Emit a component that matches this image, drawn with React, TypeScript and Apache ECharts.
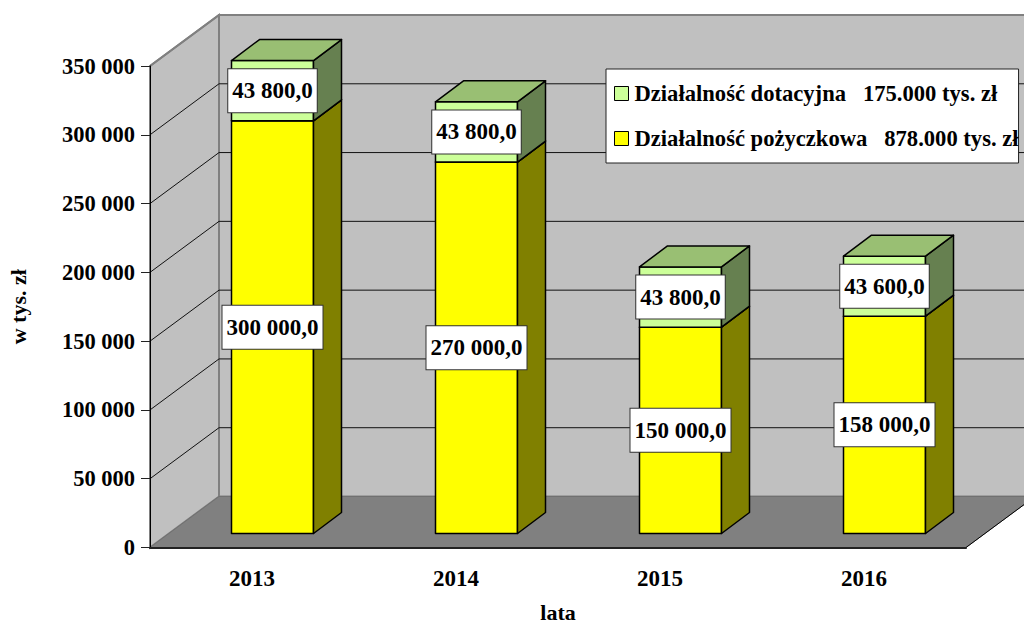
import React, { useEffect, useRef } from "react";
import * as echarts from "echarts";

const years = ["2013", "2014", "2015", "2016"];
const pozyczkowa = [300000, 270000, 150000, 158000];
const dotacyjna = [43800, 43800, 43800, 43600];
const yTicks = [50000, 100000, 150000, 200000, 250000, 300000, 350000];
const nameDot = "Działalność dotacyjna   175.000 tys. zł";
const namePoz = "Działalność pożyczkowa   878.000 tys. zł";

const FONT = '"Liberation Serif", "Times New Roman", serif';
const WALL_DX = 69;
const WALL_DY = 51;
const BAR_SHIFT_X = 20.5;
const BAR_SHIFT_Y = 14;
const BAR_HALF = 41;
const BAR_DX = 28;
const BAR_DY = 21;

const thousands = (v: number) => String(v).replace(/\B(?=(\d{3})+(?!\d))/g, " ");
const labelText = (v: number) => thousands(v) + ",0";

function segment(api: any, idx: number, from: number, to: number, value: number, c: { front: string; top: string; side: string }, padX: number) {
  const x0 = api.coord([idx, 0])[0] + BAR_SHIFT_X;
  const yb = api.coord([idx, from])[1] - BAR_SHIFT_Y;
  const yt = api.coord([idx, to])[1] - BAR_SHIFT_Y;
  const l = x0 - BAR_HALF;
  const r = x0 + BAR_HALF;
  const line = { stroke: "#000", lineWidth: 1.5, lineJoin: "round" };
  return {
    type: "group",
    children: [
      { type: "polygon", shape: { points: [[l, yb], [r, yb], [r, yt], [l, yt]] }, style: { fill: c.front, ...line } },
      { type: "polygon", shape: { points: [[r, yb], [r + BAR_DX, yb - BAR_DY], [r + BAR_DX, yt - BAR_DY], [r, yt]] }, style: { fill: c.side, ...line } },
      { type: "polygon", shape: { points: [[l, yt], [r, yt], [r + BAR_DX, yt - BAR_DY], [l + BAR_DX, yt - BAR_DY]] }, style: { fill: c.top, ...line } },
      {
        type: "text",
        x: x0,
        y: (yb + yt) / 2,
        style: {
          text: labelText(value),
          font: `bold 23px ${FONT}`,
          fill: "#000",
          align: "center",
          verticalAlign: "middle",
          backgroundColor: "#fff",
          borderColor: "#333",
          borderWidth: 1,
          padding: [10, padX, 10, padX],
        },
      },
    ],
  };
}

const yellow = { front: "#FFFF00", top: "#BFBF00", side: "#808000" };
const green = { front: "#CCFF99", top: "#99BF73", side: "#668050" };

export default function App() {
  const ref = useRef<HTMLDivElement>(null);
  useEffect(() => {
    document.body.style.margin = "0";
    const chart = echarts.init(ref.current!, null, { renderer: "svg" });
    const axisFont = { fontFamily: FONT, fontWeight: "bold" as const, fontSize: 23, color: "#000" };
    chart.setOption({
      animation: false,
      backgroundColor: "#fff",
      grid: { left: 150, top: 66, width: 816, height: 481.5, outerBoundsMode: "none" },
      xAxis: {
        type: "category",
        data: years,
        z: 10,
        name: "lata",
        nameLocation: "middle",
        nameGap: 54,
        nameTextStyle: { ...axisFont, fontSize: 22 },
        axisLine: { lineStyle: { color: "#222", width: 2 } },
        axisTick: { length: 9, alignWithLabel: false, lineStyle: { color: "#555" } },
        axisLabel: { ...axisFont, margin: 19 },
        splitLine: { show: false },
      },
      yAxis: {
        type: "value",
        min: 0,
        max: 350000,
        interval: 50000,
        z: 10,
        name: "w tys. zł",
        nameLocation: "middle",
        nameGap: 121,
        nameRotate: 90,
        nameTextStyle: { ...axisFont, fontSize: 22 },
        axisLine: { show: true, lineStyle: { color: "#000", width: 1 } },
        axisTick: { show: true, length: 9, lineStyle: { color: "#222" } },
        axisLabel: { ...axisFont, fontSize: 22.5, margin: 15, formatter: (v: number) => thousands(v) },
        splitLine: { show: false },
      },
      legend: {
        left: 606,
        top: 69,
        orient: "vertical",
        align: "left",
        itemWidth: 14,
        itemHeight: 14,
        itemGap: 22,
        padding: [13, 0, 13, 8],
        backgroundColor: "#fff",
        borderColor: "#222",
        borderWidth: 1,
        selectedMode: false,
        textStyle: { ...axisFont, fontSize: 22.6, padding: [0, 0, 0, 1] },
        data: [
          { name: nameDot, icon: "rect", itemStyle: { color: "#CCFF99", borderColor: "#000", borderWidth: 1 } },
          { name: namePoz, icon: "rect", itemStyle: { color: "#FFFF00", borderColor: "#000", borderWidth: 1 } },
        ],
      },
      series: [
        {
          type: "custom",
          name: "walls",
          coordinateSystem: "cartesian2d",
          silent: true,
          z: 1,
          data: [[0, 0]],
          renderItem: (params: any, api: any) => {
            const cs = params.coordSys;
            const L = cs.x, R = cs.x + cs.width, T = cs.y, B = cs.y + cs.height;
            const edge = { stroke: "#808080", lineWidth: 2 };
            return {
              type: "group",
              children: [
                { type: "polygon", shape: { points: [[L + WALL_DX, T - WALL_DY], [R + WALL_DX, T - WALL_DY], [R + WALL_DX, B - WALL_DY], [L + WALL_DX, B - WALL_DY]] }, style: { fill: "#C0C0C0", ...edge } },
                { type: "polygon", shape: { points: [[L, T], [L + WALL_DX, T - WALL_DY], [L + WALL_DX, B - WALL_DY], [L, B]] }, style: { fill: "#C0C0C0", ...edge } },
                { type: "polygon", shape: { points: [[L, B], [L + WALL_DX, B - WALL_DY], [R + WALL_DX, B - WALL_DY], [R, B]] }, style: { fill: "#808080", stroke: "#707070", lineWidth: 1 } },
                { type: "line", shape: { x1: R, y1: B, x2: R + WALL_DX, y2: B - WALL_DY }, style: { stroke: "#000", lineWidth: 1 } },
              ],
            };
          },
        },
        {
          type: "custom",
          name: "grid",
          coordinateSystem: "cartesian2d",
          silent: true,
          z: 2,
          data: yTicks.map((v) => [0, v]),
          renderItem: (params: any, api: any) => {
            const cs = params.coordSys;
            const L = cs.x, R = cs.x + cs.width;
            const v = api.value(1);
            const y = api.coord([0, v])[1];
            const top = v === 350000;
            return {
              type: "group",
              children: [
                { type: "polyline", shape: { points: [[L, y], [L + WALL_DX, y - WALL_DY], [R + WALL_DX, y - WALL_DY]] }, style: { fill: "none", stroke: top ? "#808080" : "#111", lineWidth: 1 } },
              ].concat(top ? [{ type: "line", shape: { x1: L, y1: y, x2: L + WALL_DX, y2: y - WALL_DY }, style: { stroke: "#808080", lineWidth: 2 } } as any] : []),
            };
          },
        },
        {
          type: "custom",
          name: namePoz,
          coordinateSystem: "cartesian2d",
          silent: true,
          z: 3,
          itemStyle: { color: "#FFFF00" },
          data: pozyczkowa.map((v, i) => [i, v]),
          renderItem: (params: any, api: any) => {
            const i = api.value(0);
            const v = api.value(1);
            return segment(api, i, 0, v, v, yellow, 4);
          },
        },
        {
          type: "custom",
          name: nameDot,
          coordinateSystem: "cartesian2d",
          silent: true,
          z: 4,
          itemStyle: { color: "#CCFF99" },
          data: dotacyjna.map((v, i) => [i, v]),
          renderItem: (params: any, api: any) => {
            const i = api.value(0);
            const v = api.value(1);
            const base = pozyczkowa[i];
            return segment(api, i, base, base + v, v, green, 4);
          },
        },
      ],
    });
    return () => chart.dispose();
  }, []);
  return <div ref={ref} style={{ width: 1024, height: 624 }} />;
}
